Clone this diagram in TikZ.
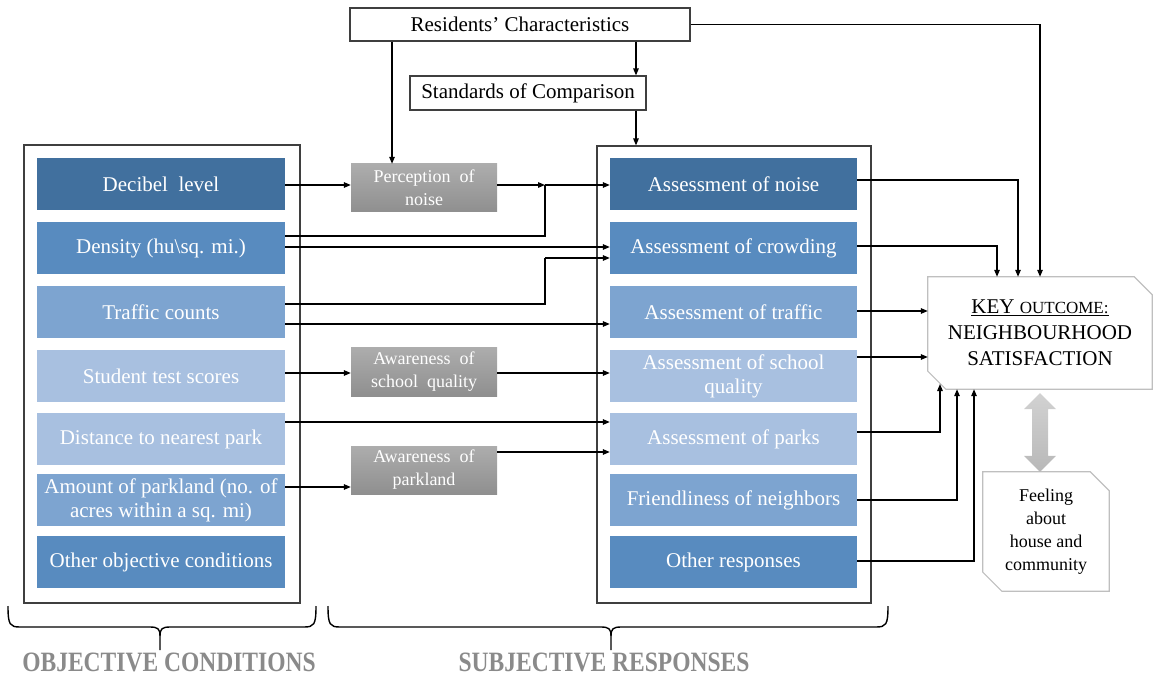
\documentclass[tikz,border=0pt]{standalone}
\usepackage{fontspec}
\setmainfont{Liberation Serif}
\usetikzlibrary{arrows.meta,calc}

\definecolor{bdark}{HTML}{41709E}
\definecolor{bmid}{HTML}{588BBF}
\definecolor{blight}{HTML}{7DA4D0}
\definecolor{bpale}{HTML}{A8C0E0}
\definecolor{frame}{HTML}{3F3F3F}
\definecolor{soft}{HTML}{BFBFBF}
\definecolor{labelgray}{HTML}{8A8A8A}
\definecolor{medtop}{HTML}{ADADAD}
\definecolor{medbot}{HTML}{8F8F8F}
\definecolor{twotop}{HTML}{D2D2D2}
\definecolor{twobot}{HTML}{B8B8B8}

\begin{document}
\begin{tikzpicture}[x=1pt,y=-1pt,
  item/.style={minimum width=248pt,minimum height=52pt,inner sep=0pt,text=white,
    align=center,font=\fontsize{21}{24}\selectfont},
  mediator/.style={minimum width=146pt,minimum height=48pt,inner sep=0pt,text=white,
    align=center,font=\fontsize{18}{23}\selectfont,top color=medtop,bottom color=medbot},
  link/.style={line width=1.3pt,-{Triangle[length=7pt,width=5.5pt]}},
  plain/.style={line width=1.3pt},
  framebox/.style={draw=frame,line width=1.2pt,inner sep=0pt},
  capbox/.style={draw=frame,line width=1.2pt,fill=white,inner sep=0pt,
    font=\fontsize{21}{24}\selectfont},
  bracepath/.style={line width=1.4pt,line join=round},
  grouplabel/.style={text=labelgray,font=\fontsize{28}{28}\selectfont\bfseries}
]
\useasboundingbox (0,0) rectangle (1159,676);

% outer frames
\node[framebox,minimum width=276pt,minimum height=458pt] (lbox) at (162,374) {};
\node[framebox,minimum width=274pt,minimum height=457pt] (rbox) at (734,374.5) {};

% top boxes
\node[capbox,minimum width=340pt,minimum height=33pt] (res) at (520,24.5) {Residents’ Characteristics};
\node[capbox,minimum width=236pt,minimum height=34pt] (std) at (528,93) {Standards of Comparison};

% objective conditions
\node[item,fill=bdark]  (dec)  at (161,184.5) {Decibel\ \ level};
\node[item,fill=bmid]   (dens) at (161,248) {Density (hu\textbackslash sq. mi.)};
\node[item,fill=blight] (traf) at (161,312) {Traffic counts};
\node[item,fill=bpale]  (stud) at (161,376) {Student test scores};
\node[item,fill=bpale]  (dist) at (161,439) {Distance to nearest park};
\node[item,fill=blight] (park) at (161,500) {Amount of parkland (no. of\\acres within a sq. mi)};
\node[item,fill=bmid]   (othc) at (161,562) {Other objective conditions};

% subjective responses
\node[item,fill=bdark,minimum width=247pt]  (anoise)  at (733.5,184.5) {Assessment of noise};
\node[item,fill=bmid,minimum width=247pt]   (acrowd)  at (733.5,248) {Assessment of crowding};
\node[item,fill=blight,minimum width=247pt] (atraf)   at (733.5,312) {Assessment of traffic};
\node[item,fill=bpale,minimum width=247pt]  (aschool) at (733.5,376) {Assessment of school\\quality};
\node[item,fill=bpale,minimum width=247pt]  (aparks)  at (733.5,439) {Assessment of parks};
\node[item,fill=blight,minimum width=247pt] (friend)  at (733.5,500) {Friendliness of neighbors};
\node[item,fill=bmid,minimum width=247pt]   (othr)    at (733.5,562) {Other responses};

% perception / awareness steps
\node[mediator] (perc) at (424,188) {Perception\ \ of\\noise};
\node[mediator,minimum height=49pt] (aws) at (424,371.5) {Awareness\ \ of\\school\ \ quality};
\node[mediator] (awp) at (424,470) {Awareness\ \ of\\parkland};

% key outcome
\node[minimum width=224pt,minimum height=112pt,inner sep=0pt,align=center,
  font=\fontsize{21}{26}\selectfont] (key) at (1040,333)
  {\underline{KEY {\fontsize{17}{20}\selectfont OUTCOME:}}\\NEIGHBOURHOOD\\SATISFACTION};
\draw[soft,line width=1.2pt] (key.north west) -- ($(key.north east)+(-18,0)$)
  -- ($(key.north east)+(0,18)$) -- (key.south east) -- ($(key.south west)+(18,0)$)
  -- ($(key.south west)+(0,-18)$) -- cycle;

% feeling about house and community
\node[minimum width=126pt,minimum height=119pt,inner sep=0pt,align=center,
  font=\fontsize{18}{23}\selectfont] (feel) at (1046,531.5)
  {Feeling\\about\\house and\\community};
\draw[soft,line width=1.2pt] (feel.north west) -- ($(feel.north east)+(-19,0)$)
  -- ($(feel.north east)+(0,19)$) -- (feel.south east) -- ($(feel.south west)+(19,0)$)
  -- ($(feel.south west)+(0,-19)$) -- cycle;

% two-way link between outcome and feeling
\coordinate (dt) at ($(key.south)+(0,4)$);
\coordinate (db) at (key.south |- feel.north);
\shade[top color=twotop,bottom color=twobot] (dt) -- ++(16,16) -- ++(-8,0) -- ($(db)+(8,-16)$)
  -- ++(8,0) -- (db) -- ++(-16,-16) -- ++(8,0) -- ($(dt)+(-8,16)$) -- ++(-8,0) -- cycle;

% connectors from the top
\draw[link] (res.south -| 392,0) -- (perc.north -| 392,0);
\draw[link] (res.south -| 636,0) -- (std.north -| 636,0);
\draw[link] (res.east) -| (key.north);
\draw[link] (std.south -| 636,0) -- (rbox.north -| 636,0);

% objective conditions to responses
\coordinate (j1) at (545,185);
\coordinate (j2) at (545,258);
\draw[link] (dec.east |- 0,185) -- (perc.west |- 0,185);
\draw[link] (perc.east |- 0,185) -- (j1);
\draw[link] (j1) -- (anoise.west |- j1);
\draw[plain] (dens.east |- 0,236) -| (j1);
\draw[link] (dens.east |- 0,247) -- (acrowd.west |- 0,247);
\draw[plain] (traf.east |- 0,304) -| (j2);
\draw[link] (j2) -- (acrowd.west |- j2);
\draw[link] (traf.east |- 0,324) -- (atraf.west |- 0,324);
\draw[link] (stud.east |- 0,373) -- (aws.west |- 0,373);
\draw[link] (aws.east |- 0,373) -- (aschool.west |- 0,373);
\draw[link] (dist.east |- 0,422) -- (aparks.west |- 0,422);
\draw[link] (park.east |- 0,487) -- (awp.west |- 0,487);
\draw[link] (awp.east |- 0,452) -- (aparks.west |- 0,452);

% responses to the key outcome
\coordinate (kp) at (940,384);
\draw[link] (anoise.east |- 0,180) -| ($(key.north)+(-22,0)$);
\draw[link] (acrowd.east |- 0,246) -| ($(key.north)+(-43,0)$);
\draw[link] (atraf.east |- 0,311) -- (key.west |- 0,311);
\draw[link] (aschool.east |- 0,357) -- (key.west |- 0,357);
\draw[link] (aparks.east |- 0,432) -| (kp);
\draw[link] (friend.east |- 0,500) -| ($(key.south)+(-83,0)$);
\draw[link] (othr.east |- 0,561) -| ($(key.south)+(-66,0)$);

% group braces
\draw[bracepath] (8,606) .. controls (8,625) and (10,627) .. (20,627) -- (150,627)
  .. controls (158,627) and (160,629) .. (160,636) -- (160,650);
\draw[bracepath] (160,636) .. controls (160,629) and (162,627) .. (170,627) -- (304,627)
  .. controls (314,627) and (316,625) .. (316,606);
\draw[bracepath] (328,606) .. controls (328,625) and (330,627) .. (340,627) -- (601,627)
  .. controls (609,627) and (611,629) .. (611,636) -- (611,650);
\draw[bracepath] (611,636) .. controls (611,629) and (613,627) .. (621,627) -- (876,627)
  .. controls (886,627) and (888,625) .. (888,606);

\node[grouplabel] (objl) at (169,662) {\scalebox{0.84}[1]{OBJECTIVE CONDITIONS}};
\node[grouplabel] (subl) at (604,662) {\scalebox{0.84}[1]{SUBJECTIVE RESPONSES}};
\end{tikzpicture}
\end{document}
